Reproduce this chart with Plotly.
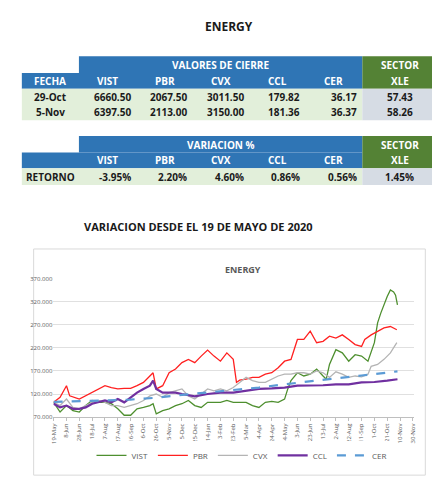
import plotly.graph_objects as go
import pandas as pd

W, H = 440, 479
def px(x): return x / W
def py(y): return (H - y) / H

# ---- table data ----
tickers = ["VIST", "PBR", "CVX", "CCL", "CER"]
dates_tbl = ["29-Oct", "5-Nov"]
close_29oct = ["6660.50", "2067.50", "3011.50", "179.82", "36.17"]
close_5nov = ["6397.50", "2113.00", "3150.00", "181.36", "36.37"]
xle_close = ["57.43", "58.26"]
retorno = ["-3.95%", "2.20%", "4.60%", "0.86%", "0.56%"]
xle_ret = "1.45%"

# ---- chart data (days since 19-May-2020, index value) ----
pbr_d = [0,10,20,25,40,50,60,70,80,90,100,110,120,130,140,155,160,170,180,190,200,210,220,230,240,250,260,270,280,285,290,300,310,320,330,340,350,360,370,380,390,400,410,420,430,440,450,460,470,480,485,495,505,515,525,535]
pbr_v = [102,113,138,116,109,116,123,131,138,134,131,132,132,138,145,166,131,138,166,174,188,195,188,202,215,202,191,209,195,145,150,152,156,156,163,166,177,191,195,238,238,256,231,234,245,241,248,238,227,223,238,248,256,263,266,259]
vist_d = [0,10,20,30,40,50,60,70,80,90,100,110,120,130,140,150,155,160,170,180,190,200,210,220,230,240,250,260,270,280,290,300,310,320,330,340,350,360,365,370,380,390,400,410,420,425,430,440,450,460,470,480,490,500,505,510,520,525,530,533,536]
vist_v = [102,81,95,84,81,95,106,102,102,99,88,74,74,88,91,95,99,77,84,88,95,99,106,95,91,102,102,102,106,102,102,102,95,91,102,104,102,109,131,149,166,159,163,174,159,152,184,216,209,191,205,202,191,231,274,295,331,345,341,334,313]
cvx_d = [0,10,20,30,40,50,60,70,80,90,100,110,120,130,140,150,160,170,180,190,200,210,220,230,240,250,260,270,280,290,300,310,320,330,340,350,360,370,380,390,400,410,420,430,440,450,460,470,480,490,495,505,515,525,535]
cvx_v = [102,95,109,91,88,95,102,106,102,95,95,91,95,99,106,116,120,113,123,127,131,116,109,120,131,127,131,127,134,145,156,149,145,145,152,159,163,163,166,166,163,170,166,156,168,163,156,159,157,163,180,184,195,209,231]
ccl_d = [0,10,20,30,40,50,60,70,80,90,100,110,120,130,140,150,155,160,170,180,190,200,210,220,240,260,280,300,320,340,360,380,400,420,440,460,480,500,520,536]
ccl_v = [99,91,95,88,88,91,99,102,106,102,109,102,113,123,131,138,149,131,123,123,123,120,118,115,120,123,123,127,131,132,134,138,138,139,141,141,145,146,149,152]
cer_d = [0,40,80,120,160,200,240,280,320,360,400,440,480,520,536]
cer_v = [103,104,106,108,112,118,123,128,134,141,148,154,160,166,169]

y_ticks = [70, 120, 170, 220, 270, 320, 370]
y_labels = ["70.000", "120.000", "170.000", "220.000", "270.000", "320.000", "370.000"]

base = pd.Timestamp("2020-05-19")
def dt(d): return [base + pd.Timedelta(days=int(x)) for x in d]

fig = go.Figure()
series = [("VIST", vist_d, vist_v, "#4E8F2F", 1.3, "solid"),
          ("PBR", pbr_d, pbr_v, "#FF2020", 1.3, "solid"),
          ("CVX", cvx_d, cvx_v, "#B4B4B4", 1.3, "solid"),
          ("CCL", ccl_d, ccl_v, "#7030A0", 2.2, "solid"),
          ("CER", cer_d, cer_v, "#5B9BD5", 2.2, "dash")]
for name, d, v, c, w, dash in series:
    fig.add_trace(go.Scatter(x=dt(d), y=v, mode="lines", name=name,
                             line=dict(color=c, width=w, dash=dash)))

shapes, ann = [], []
def rect(x0, y0, x1, y1, color, line=None):
    shapes.append(dict(type="rect", xref="paper", yref="paper", x0=px(x0), x1=px(x1),
                       y0=py(y1), y1=py(y0), fillcolor=color,
                       line=dict(width=0) if line is None else line, layer="below"))
def txt(x, y, s, color="#1a1a1a", size=10, xanchor="center"):
    ann.append(dict(xref="paper", yref="paper", x=px(x), y=py(y), text="<b>%s</b>" % s,
                    showarrow=False, xanchor=xanchor, yanchor="middle",
                    font=dict(family="Open Sans", size=size, color=color)))

BLUE, GREEN, LG, GRAY = "#2F75B5", "#548235", "#E2EFDA", "#D6DCE4"
cols = [10, 68, 126, 183, 241, 298, 356, 432]
hx = [97, 155, 212, 270, 327]
# table 1
rect(68, 45, 356, 62, BLUE); rect(10, 62, 356, 78, BLUE); rect(356, 45, 432, 78, GREEN)
rect(10, 78, 356, 110, LG); rect(356, 78, 432, 110, GRAY)
txt(212, 54, "VALORES DE CIERRE", "white"); txt(394, 54, "SECTOR", "white"); txt(394, 70, "XLE", "white")
txt(39, 70, "FECHA", "white")
for i, t in enumerate(tickers):
    txt(hx[i], 70, t, "white")
    txt(cols[i + 2] - 3, 86, close_29oct[i], xanchor="right")
    txt(cols[i + 2] - 3, 102, close_5nov[i], xanchor="right")
txt(39, 86, dates_tbl[0]); txt(39, 102, dates_tbl[1])
txt(394, 86, xle_close[0]); txt(394, 102, xle_close[1])
# table 2
rect(68, 126, 356, 143, BLUE); rect(10, 143, 356, 159, BLUE); rect(356, 126, 432, 159, GREEN)
rect(10, 159, 356, 176, LG); rect(356, 159, 432, 176, GRAY)
txt(212, 135, "VARIACION %", "white"); txt(394, 135, "SECTOR", "white"); txt(394, 151, "XLE", "white")
for i, t in enumerate(tickers):
    txt(hx[i], 151, t, "white")
    txt(cols[i + 2] - 3, 168, retorno[i], xanchor="right")
txt(39, 168, "RETORNO"); txt(394, 168, xle_ret)
# titles
txt(220, 15, "ENERGY", "#1a1a1a", 12)
txt(190, 218, "VARIACION DESDE EL 19 DE MAYO DE 2020", "#1a1a1a", 11)
txt(235, 262, "ENERGY", "#595959", 9)
# chart border
shapes.append(dict(type="rect", xref="paper", yref="paper", x0=px(22), x1=px(420),
                   y0=py(471), y1=py(241), line=dict(color="#D9D9D9", width=1), layer="below"))

fig.update_layout(
    width=W, height=H, margin=dict(l=0, r=0, t=0, b=0),
    paper_bgcolor="white", plot_bgcolor="white",
    shapes=shapes, annotations=ann,
    xaxis=dict(domain=[px(42), px(408)], type="date",
               range=[base - pd.Timedelta(hours=12), base + pd.Timedelta(days=561)],
               tick0=base, dtick=86400000 * 20, tickformat="%-d-%b", tickangle=-90,
               tickfont=dict(size=6, color="#595959", family="Open Sans"),
               showgrid=False, showline=True, linecolor="#BFBFBF",
               ticks="outside", ticklen=3, tickcolor="#BFBFBF", anchor="y"),
    yaxis=dict(domain=[py(412), py(271)], range=[70, 370], tickvals=y_ticks, ticktext=y_labels,
               tickfont=dict(size=6, color="#595959", family="Open Sans"),
               showgrid=True, gridcolor="#E0E0E0", zeroline=False, showline=False),
    legend=dict(orientation="h", x=0.53, xanchor="center", y=py(451), yanchor="middle",
                font=dict(size=8, color="#595959", family="Open Sans"),
                itemwidth=30, tracegroupgap=0),
    showlegend=True,
)
fig.write_html("out.html")
